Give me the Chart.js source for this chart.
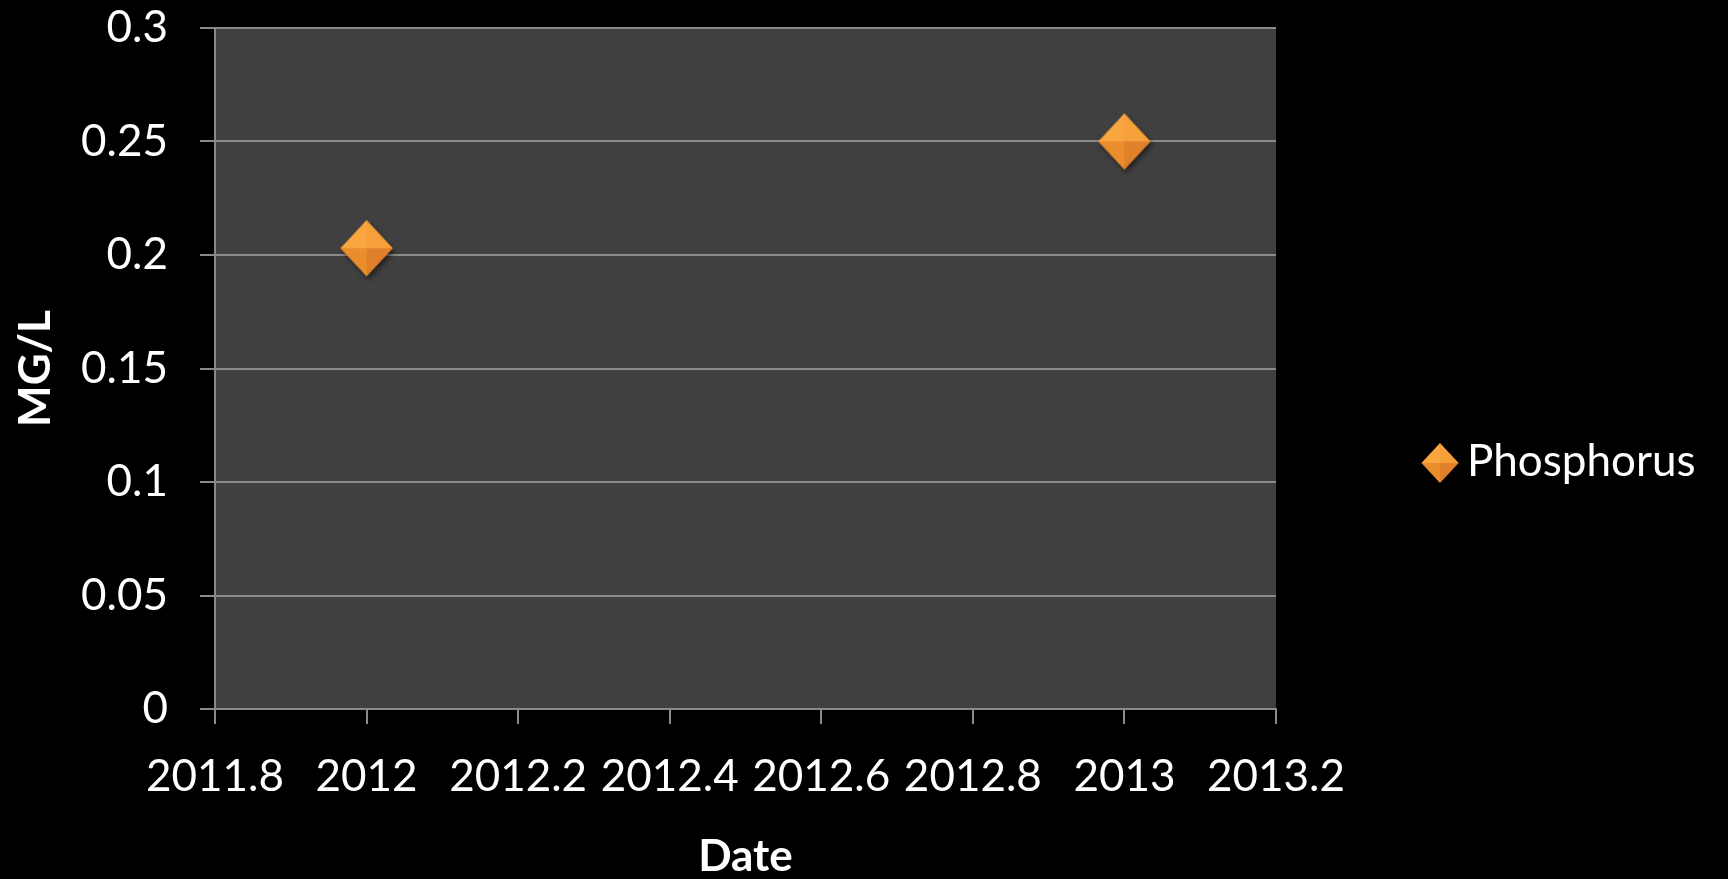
<!DOCTYPE html>
<html>
<head>
<meta charset="utf-8">
<script src="https://cdn.jsdelivr.net/npm/chart.js@4/dist/chart.umd.min.js"></script>
<style>
  html, body { margin: 0; padding: 0; background: #000; }
</style>
</head>
<body>
<canvas id="chart" width="1728" height="879"></canvas>
<script>
// data
const seriesName = 'Phosphorus';
const dates = [2012, 2013];
const mgPerL = [0.203, 0.25];
const xTicks = [2011.8, 2012, 2012.2, 2012.4, 2012.6, 2012.8, 2013, 2013.2];
const yTicks = [0, 0.05, 0.1, 0.15, 0.2, 0.25, 0.3];

const FONT = 'Lato, "Open Sans", sans-serif';
const GRID = '#8a8a8a';

// orange faceted diamond marker, drawn once into a small canvas
function diamond(r, withShadow) {
  const pad = withShadow ? 9 : 2;
  const c = document.createElement('canvas');
  c.width = c.height = 2 * (r + pad);
  const g = c.getContext('2d');
  const cx = r + pad, cy = r + pad, rx = r * 0.93, ry = r;
  const top = [cx, cy - ry], right = [cx + rx, cy], bottom = [cx, cy + ry], left = [cx - rx, cy];

  if (withShadow) {
    g.save();
    g.shadowColor = 'rgba(0,0,0,0.55)';
    g.shadowBlur = 5;
    g.shadowOffsetX = 2;
    g.shadowOffsetY = 3;
    g.fillStyle = '#e8892a';
    g.beginPath();
    g.moveTo(...top); g.lineTo(...right); g.lineTo(...bottom); g.lineTo(...left);
    g.closePath();
    g.fill();
    g.restore();
  }

  const facet = (a, b, col) => {
    g.fillStyle = col;
    g.beginPath();
    g.moveTo(cx, cy); g.lineTo(...a); g.lineTo(...b);
    g.closePath();
    g.fill();
  };
  facet(left, top, '#f9a641');
  facet(top, right, '#f6a03a');
  facet(left, bottom, '#eb8d2d');
  facet(bottom, right, '#e0802a');
  return c;
}

const pointImg = diamond(28, true);
const legendImg = diamond(20, false);

// black page, dark grey plot area
const plotBg = {
  id: 'plotBg',
  beforeDraw(chart) {
    const { ctx, chartArea: a } = chart;
    ctx.save();
    ctx.fillStyle = '#000';
    ctx.fillRect(0, 0, chart.width, chart.height);
    ctx.fillStyle = '#404040';
    ctx.fillRect(a.left, a.top, a.right - a.left, a.bottom - a.top);
    ctx.restore();
  }
};

// legend on the right, like the spreadsheet one
const sideLegend = {
  id: 'sideLegend',
  afterDraw(chart) {
    const ctx = chart.ctx;
    ctx.save();
    chart.data.datasets.forEach((ds, i) => {
      const y = 463 + i * 50;
      ctx.drawImage(legendImg, 1440 - legendImg.width / 2, y - legendImg.height / 2);
      ctx.fillStyle = '#fff';
      ctx.font = '44px ' + FONT;
      ctx.textBaseline = 'alphabetic';
      ctx.textAlign = 'left';
      ctx.fillText(ds.label, 1467, y + 13);
    });
    ctx.restore();
  }
};

const fmt = v => String(Number(v.toFixed(2)));

new Chart(document.getElementById('chart').getContext('2d'), {
  type: 'scatter',
  data: {
    datasets: [{
      label: seriesName,
      data: dates.map((d, i) => ({ x: d, y: mgPerL[i] })),
      pointStyle: pointImg,
      pointRadius: 28,
      pointHoverRadius: 28,
      showLine: false
    }]
  },
  options: {
    responsive: false,
    animation: false,
    events: [],
    layout: { autoPadding: false, padding: { left: 0, top: 28, right: 452, bottom: 0 } },
    plugins: { legend: { display: false }, tooltip: { enabled: false } },
    scales: {
      x: {
        type: 'linear',
        min: 2011.8,
        max: 2013.2,
        afterBuildTicks: s => { s.ticks = xTicks.map(v => ({ value: v })); },
        afterFit: s => { s.height = 170; },
        ticks: {
          color: '#fff',
          font: { family: FONT, size: 44 },
          padding: 26,
          maxRotation: 0,
          autoSkip: false,
          callback: v => fmt(v)
        },
        grid: { drawOnChartArea: false, drawTicks: true, tickLength: 15, color: GRID, lineWidth: 2 },
        border: { display: true, color: GRID, width: 2 },
        title: {
          display: true,
          text: 'Date',
          color: '#fff',
          font: { family: FONT, size: 44, weight: 'bold', lineHeight: 1 },
          padding: { top: 0, bottom: 0 }
        }
      },
      y: {
        min: 0,
        max: 0.3,
        afterBuildTicks: s => { s.ticks = yTicks.map(v => ({ value: v })); },
        // fixed axis width; labels may overhang the plot top
        afterFit: s => { s.width = 215; s.paddingTop = 0; s.paddingBottom = 0; },
        ticks: {
          color: '#fff',
          font: { family: FONT, size: 44 },
          padding: 32,
          callback: v => fmt(v)
        },
        grid: { color: GRID, lineWidth: 2, tickLength: 15 },
        border: { display: true, color: GRID, width: 2 },
        title: {
          display: true,
          text: 'MG/L',
          color: '#fff',
          font: { family: FONT, size: 44, weight: 'bold', lineHeight: 1 },
          padding: { top: 14, bottom: 0 }
        }
      }
    }
  },
  plugins: [plotBg, sideLegend]
});
</script>
</body>
</html>
